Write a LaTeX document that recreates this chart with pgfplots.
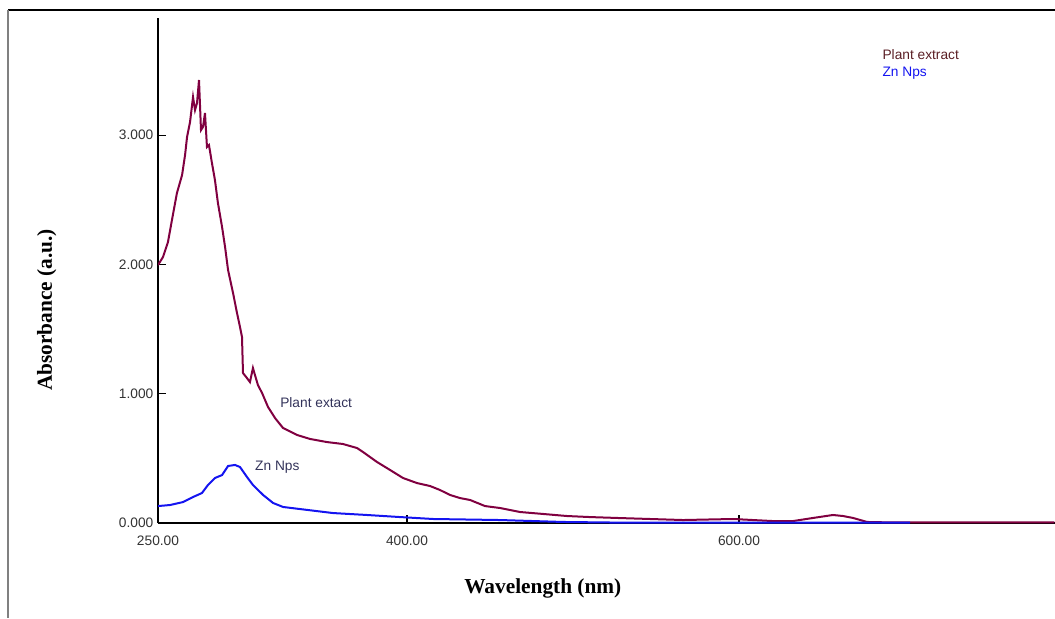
\documentclass[border=0pt]{standalone}
\usepackage{fontspec}
\setmainfont{Liberation Serif}
\setsansfont{Liberation Sans}
\usepackage{pgfplots}
\pgfplotsset{compat=1.18}
\definecolor{cplant}{HTML}{800040}
\definecolor{czn}{HTML}{1414F0}
\definecolor{clab}{HTML}{33335A}
\definecolor{cleg}{HTML}{5A1E24}

\begin{document}
\begin{tikzpicture}[x=0.75pt,y=0.75pt]
\useasboundingbox (0,0) rectangle (1055,618);
% outer frame (left and top edges only visible)
\draw[line width=0.8pt,black] (8,608) -- (1055,608);
\draw[line width=0.8pt,gray] (8,608) -- (8,0);

\begin{axis}[
  at={(118.5pt,71.25pt)}, anchor=south west,
  scale only axis, width=672.75pt, height=378.75pt,
  xmin=250, xmax=790.36, ymin=0, ymax=3.906,
  axis x line=bottom, axis y line=left,
  axis line style={-,line width=1pt,black},
  xtick={250,400,600}, xticklabels={250.00,400.00,600.00},
  ytick={0,1,2,3}, yticklabels={0.000,1.000,2.000,3.000},
  tick align=inside, major tick length=6pt,
  tick style={black,line width=0.8pt},
  ticklabel style={font=\sffamily\fontsize{10.3}{12}\selectfont,text=black!80},
  xticklabel style={yshift=-6.5pt},
  xlabel={Wavelength (nm)},
  ylabel={Absorbance (a.u.)},
  xlabel style={font=\fontsize{16}{18}\selectfont\bfseries,
    at={(axis description cs:0.429,-0.129)}, anchor=center},
  ylabel style={font=\fontsize{16}{18}\selectfont\bfseries,
    at={(axis description cs:-0.124,0.422)}, anchor=center},
  legend style={draw=none,fill=none,at={(rel axis cs:0.80,0.948)},anchor=north west,
    font=\sffamily\fontsize{10.3}{12}\selectfont,row sep=0pt,
    cells={anchor=west}},
  legend image code/.code={},
]
\addplot[cplant,line width=1.5pt] coordinates {
(250.0,1.995) (253.0,2.057) (256.0,2.173) (258.4,2.343) (261.4,2.552)
(264.5,2.691) (266.3,2.846) (267.5,2.985) (269.3,3.101) (271.1,3.295)
(272.3,3.194) (273.5,3.248) (274.7,3.426) (275.9,3.039) (277.1,3.063)
(278.3,3.171) (279.5,2.908) (280.7,2.923) (282.5,2.784) (284.3,2.653)
(286.1,2.475) (288.6,2.289) (290.4,2.135) (292.2,1.957) (295.2,1.779)
(297.6,1.624) (299.4,1.516) (300.6,1.439) (301.2,1.160) (303.6,1.121)
(305.4,1.090) (307.2,1.199) (308.4,1.145) (310.2,1.067) (312.7,1.005)
(316.3,0.897) (320.5,0.812) (325.3,0.735) (333.7,0.681) (341.6,0.650)
(351.8,0.626) (361.4,0.611) (369.9,0.580) (373.5,0.549) (381.9,0.472)
(389.8,0.410) (397.6,0.348) (406.0,0.309) (413.9,0.286) (419.9,0.255)
(425.9,0.217) (431.9,0.193) (438.0,0.178) (447.0,0.131) (456.0,0.116)
(468.1,0.085) (481.9,0.070) (496.4,0.054) (510.2,0.046) (526.5,0.039)
(546.4,0.031) (566.3,0.023) (596.4,0.031) (608.4,0.023) (620.5,0.015)
(632.5,0.015) (644.6,0.039) (656.6,0.062) (662.7,0.054) (668.7,0.039)
(677.1,0.008) (689.2,0.005) (790.0,0.005)
};
\addlegendentry{\textcolor{cleg}{Plant extract}}
\addplot[czn,line width=1.5pt] coordinates {
(250.0,0.131) (257.2,0.139) (265.1,0.162) (271.1,0.201) (276.5,0.232)
(280.1,0.294) (284.3,0.348) (288.6,0.371) (292.2,0.441) (296.4,0.449)
(299.4,0.433) (303.6,0.356) (307.2,0.294) (313.3,0.217) (319.3,0.155)
(325.3,0.124) (335.5,0.108) (355.4,0.077) (375.9,0.062) (395.8,0.046)
(415.7,0.031) (456.0,0.023) (494.0,0.008) (528.3,0.003) (703.0,0.002)
};
\addlegendentry{\textcolor{czn}{Zn Nps}}
\node[anchor=west,inner sep=0pt,font=\sffamily\fontsize{10.3}{12}\selectfont,text=clab] at (axis cs:323.5,0.928) {Plant extact};
\node[anchor=west,inner sep=0pt,font=\sffamily\fontsize{10.3}{12}\selectfont,text=clab] at (axis cs:308.4,0.433) {Zn Nps};
\end{axis}
\end{tikzpicture}
\end{document}
